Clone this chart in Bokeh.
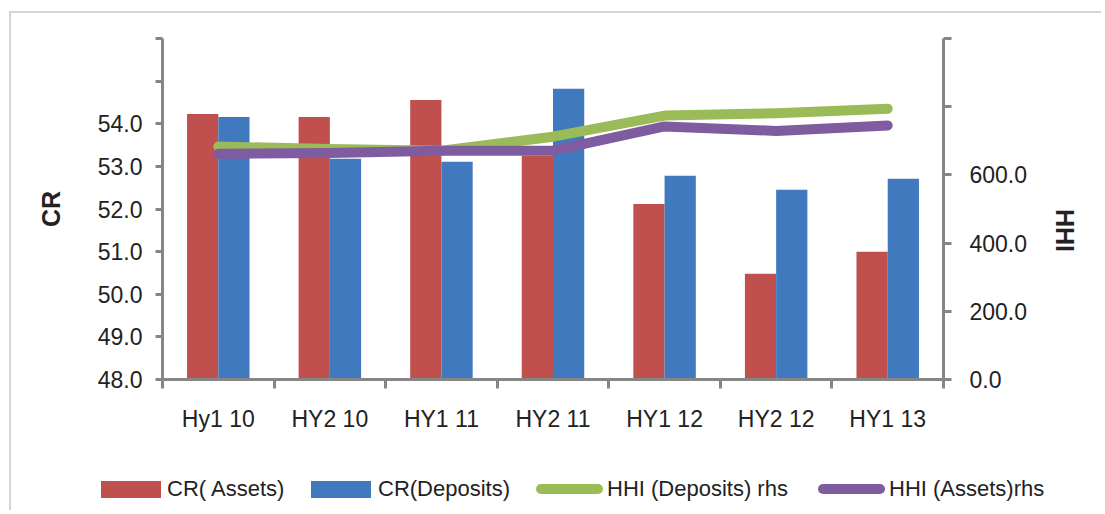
import math
from bokeh.plotting import figure
from bokeh.layouts import column
from bokeh.models import Range1d, LinearAxis, FixedTicker, ColumnDataSource, Div
from bokeh.embed import file_html
from bokeh.resources import INLINE

# ---- data ----
categories = ["Hy1 10", "HY2 10", "HY1 11", "HY2 11", "HY1 12", "HY2 12", "HY1 13"]
cr_assets = [54.23, 54.16, 54.56, 53.25, 52.12, 50.48, 51.00]
cr_deposits = [54.16, 53.18, 53.11, 54.82, 52.78, 52.45, 52.71]
hhi_deposits = [683, 676, 671, 712, 774, 781, 794]
hhi_assets = [662, 664, 671, 671, 742, 729, 745]

left_ticks = [48, 49, 50, 51, 52, 53, 54, 55, 56]
left_labels = ["48.0", "49.0", "50.0", "51.0", "52.0", "53.0", "54.0", "", ""]
right_ticks = [0, 200, 400, 600, 800, 1000]
right_labels = ["0.0", "200.0", "400.0", "600.0", "", ""]
legend_labels = ["CR( Assets)", "CR(Deposits)", "HHI (Deposits) rhs", "HHI (Assets)rhs"]

FONT = "Liberation Sans"
AXIS_GRAY = "#868686"
TXT = "#222222"
RED, BLUE, GREEN, PURPLE = "#C0504D", "#4179BE", "#9BBB59", "#7F5BA0"
legend_colors = [RED, BLUE, GREEN, PURPLE]
legend_kinds = ["box", "box", "line", "line"]

n = len(categories)
centers = [i + 0.5 for i in range(n)]
bw = 0.28
src = ColumnDataSource(dict(
    xa=[c - bw / 2 for c in centers],
    xd=[c + bw / 2 for c in centers],
    xc=centers,
    cra=cr_assets, crd=cr_deposits,
    hd=hhi_deposits, ha=hhi_assets,
))

W = 1090
p = figure(width=W, height=437, output_backend="svg", toolbar_location=None,
           x_range=Range1d(0, n), y_range=Range1d(left_ticks[0], left_ticks[-1]),
           x_axis_type=None, y_axis_type=None,
           frame_width=781, frame_height=341,
           min_border_left=151, min_border_top=25, min_border_right=158,
           min_border_bottom=71)
p.outline_line_color = None
p.xgrid.visible = False
p.ygrid.visible = False
p.extra_y_ranges = {"hhi": Range1d(right_ticks[0], right_ticks[-1])}

p.vbar(x="xa", top="cra", bottom=left_ticks[0], width=bw, source=src,
       fill_color=RED, line_color=None)
p.vbar(x="xd", top="crd", bottom=left_ticks[0], width=bw, source=src,
       fill_color=BLUE, line_color=None)
p.line(x="xc", y="hd", source=src, y_range_name="hhi", line_color=GREEN,
       line_width=10, line_cap="round", line_join="round")
p.line(x="xc", y="ha", source=src, y_range_name="hhi", line_color=PURPLE,
       line_width=10, line_cap="round", line_join="round")

def style_axis(ax):
    ax.axis_line_color = AXIS_GRAY
    ax.axis_line_width = 3
    ax.major_tick_line_color = AXIS_GRAY
    ax.major_tick_line_width = 3
    ax.minor_tick_line_color = AXIS_GRAY
    ax.minor_tick_line_width = 3
    ax.major_label_text_font = FONT
    ax.major_label_text_font_size = "23px"
    ax.major_label_text_color = TXT
    ax.axis_label_text_font = FONT
    ax.axis_label_text_font_style = "bold"
    ax.axis_label_text_font_size = "25px"
    ax.axis_label_text_color = TXT

yl = LinearAxis(ticker=FixedTicker(ticks=left_ticks, minor_ticks=[]),
                major_label_overrides={t: l for t, l in zip(left_ticks, left_labels)},
                axis_label="CR")
style_axis(yl)
yl.major_tick_out = 7
yl.major_tick_in = 0
yl.major_label_standoff = 13
yl.axis_label_standoff = 30
p.add_layout(yl, "left")

yr = LinearAxis(y_range_name="hhi",
                ticker=FixedTicker(ticks=right_ticks, minor_ticks=[]),
                major_label_overrides={t: l for t, l in zip(right_ticks, right_labels)},
                axis_label="HHI")
style_axis(yr)
yr.major_tick_out = 8
yr.major_tick_in = 0
yr.major_label_standoff = 18
yr.axis_label_standoff = 35
try:
    yr.axis_label_orientation = -math.pi / 2
except Exception:
    pass
p.add_layout(yr, "right")

xb = LinearAxis(ticker=FixedTicker(ticks=centers, minor_ticks=list(range(n + 1))),
                major_label_overrides={c: l for c, l in zip(centers, categories)})
style_axis(xb)
xb.major_tick_out = 0
xb.major_tick_in = 0
xb.minor_tick_out = 9
xb.minor_tick_in = 0
xb.major_label_standoff = 17
p.add_layout(xb, "below")

# ---- legend strip below the chart (HTML text, swatches styled like the series) ----
swatch_left = [90, 300, 525, 807]      # px inside the strip
label_left = [156, 367, 596, 878]
parts = []
for lab, col, kind, sx, lx in zip(legend_labels, legend_colors, legend_kinds,
                                  swatch_left, label_left):
    if kind == "box":
        sw = (f'<span style="position:absolute;left:{sx}px;top:31px;width:60px;'
              f'height:17px;background:{col};"></span>')
    else:
        sw = (f'<span style="position:absolute;left:{sx}px;top:34px;width:67px;'
              f'height:10px;border-radius:5px;background:{col};"></span>')
    tx = (f'<span style="position:absolute;left:{lx}px;top:28px;white-space:nowrap;'
          f'line-height:22px;">{lab}</span>')
    parts.append(sw + tx)
html = ('<div style="position:relative;width:1090px;height:60px;'
        f'font-family:\'{FONT}\';font-size:22px;color:{TXT};">' + "".join(parts) + '</div>')
legend_strip = Div(text=html, width=W, height=60, margin=0)

root = column(p, legend_strip, spacing=0)
root.styles = {"margin-left": "9px", "margin-top": "11px",
               "border-left": "2px solid #D4D4D4", "border-top": "2px solid #D4D4D4"}

open("out.html", "w").write(file_html(root, INLINE))
